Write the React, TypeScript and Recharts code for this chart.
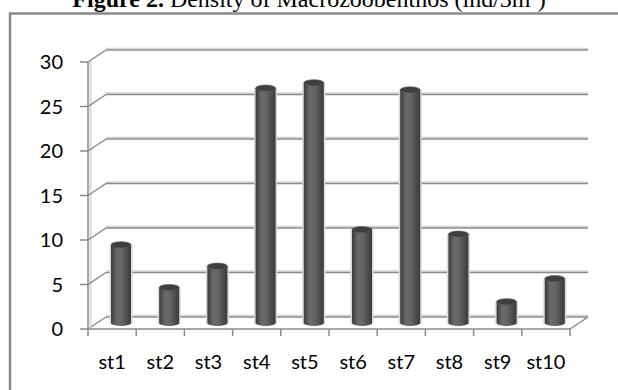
import React from 'react';
import { BarChart, Bar, XAxis, YAxis, CartesianGrid } from 'recharts';

const categories = ['st1', 'st2', 'st3', 'st4', 'st5', 'st6', 'st7', 'st8', 'st9', 'st10'];
const density = [8.8, 4.0, 6.4, 26.4, 27.0, 10.5, 26.2, 10.0, 2.4, 5.0];
const yTicks = [0, 5, 10, 15, 20, 25, 30];
const titleBold = 'Figure 2.';
const titleRest = ' Density of Macrozoobenthos (ind/3m²)';

const data = categories.map((c, i) => ({ station: c, value: density[i] }));

const DX = 18;
const DY = -12;
const AXIS = '#8a8a8a';
const X_TICK_SIZE = 7;
const X_TICK_MARGIN = 19;
const LABEL_FONT = 'Lato, "Open Sans", sans-serif';

const BackGridLine = (props: any) => {
  const { x1, y1, x2, y2, y, height } = props;
  const isFloor = Math.abs(y1 - (y + height)) < 0.5;
  return (
    <g>
      <line x1={x1} y1={y1} x2={x1 + DX} y2={y1 + DY} stroke={AXIS} strokeWidth={1.5} />
      <line x1={x1 + DX} y1={y1 + DY - 1.5} x2={x2 + DX} y2={y2 + DY - 1.5} stroke="#d4d4d4" strokeWidth={1.5} />
      <line x1={x1 + DX} y1={y1 + DY} x2={x2 + DX} y2={y2 + DY} stroke={AXIS} strokeWidth={1.5} />
      {isFloor && (
        <g>
          <line x1={x2} y1={y2} x2={x2 + DX} y2={y2 + DY} stroke={AXIS} strokeWidth={1.5} />
          <line x1={x1 + 2.5} y1={y} x2={x1 + 2.5} y2={y + height} stroke="#d8d8d8" strokeWidth={2} />
        </g>
      )}
    </g>
  );
};

const XTick = (props: any) => {
  const { x, y, payload, index, visibleTicksCount } = props;
  const half = payload && payload.offset ? payload.offset : 24;
  const axisY = y - X_TICK_SIZE - X_TICK_MARGIN;
  const isLast = index === (visibleTicksCount ?? categories.length) - 1;
  return (
    <g>
      <line x1={x - half} y1={axisY} x2={x - half} y2={axisY + X_TICK_SIZE} stroke={AXIS} strokeWidth={1.5} />
      {isLast && (
        <line x1={x + half} y1={axisY} x2={x + half} y2={axisY + X_TICK_SIZE} stroke={AXIS} strokeWidth={1.5} />
      )}
      <text x={x} y={y} dy="0.71em" textAnchor="middle" fill="#000" fontSize={20} fontFamily={LABEL_FONT}>
        {payload.value}
      </text>
    </g>
  );
};

const Cylinder = (props: any) => {
  const { x, y, width, height } = props;
  if (width == null || height == null) return null;
  const r = width / 2;
  const ry = 3;
  const cx = x + r + DX / 2;
  const top = y + DY / 2;
  const bottom = y + height + DY / 2;
  const body = `M${cx - r},${top} L${cx - r},${bottom} A${r},${ry} 0 0 0 ${cx + r},${bottom} L${cx + r},${top} Z`;
  return (
    <g>
      <rect x={cx - r - 1.5} y={top} width={width + 3} height={bottom - top + 1} fill="#d9d9d9" />
      <path d={body} fill="url(#cylGrad)" />
      <ellipse cx={cx} cy={top} rx={r} ry={ry} fill="#3f3f3f" stroke="#555" strokeWidth={0.6} />
    </g>
  );
};

export default function App() {
  return (
    <div style={{ position: 'absolute', left: 0, top: 0, width: 618, height: 390, background: '#fff', overflow: 'hidden' }}>
      <svg width={0} height={0} style={{ position: 'absolute' }}>
        <defs>
          <linearGradient id="cylGrad" x1="0" y1="0" x2="1" y2="0">
            <stop offset="0%" stopColor="#3c3c3c" />
            <stop offset="30%" stopColor="#6a6a6a" />
            <stop offset="55%" stopColor="#636363" />
            <stop offset="100%" stopColor="#3a3a3a" />
          </linearGradient>
        </defs>
      </svg>
      <div style={{ position: 'absolute', left: 0, top: 0 }}>
        <BarChart width={618} height={390} data={data} margin={{ top: 62, right: 48, bottom: 21, left: 0 }}>
          <CartesianGrid vertical={false} horizontal={(p: any) => <BackGridLine {...p} />} />
          <YAxis
            width={88}
            domain={[0, 30]}
            ticks={yTicks}
            interval={0}
            tickSize={8}
            tickMargin={17}
            axisLine={{ stroke: AXIS, strokeWidth: 1.5 }}
            tickLine={{ stroke: AXIS, strokeWidth: 1.5 }}
            tick={{ fill: '#000', fontSize: 20, fontFamily: LABEL_FONT }}
          />
          <XAxis
            dataKey="station"
            height={40}
            interval={0}
            tickSize={X_TICK_SIZE}
            tickMargin={X_TICK_MARGIN}
            tickLine={false}
            axisLine={{ stroke: AXIS, strokeWidth: 1.5 }}
            tick={<XTick />}
          />
          <Bar dataKey="value" barSize={20} shape={<Cylinder />} isAnimationActive={false} />
        </BarChart>
      </div>
      <svg width={618} height={390} style={{ position: 'absolute', left: 0, top: 0, pointerEvents: 'none' }}>
        <rect x={10} y={13.5} width={700} height={500} fill="none" stroke="#8a8a8a" strokeWidth={2.5} />
        <text x={309} y={7} textAnchor="middle" fontFamily='"Liberation Serif", "Times New Roman", serif' fontSize={24} fill="#000">
          <tspan fontWeight="bold">{titleBold}</tspan>
          <tspan>{titleRest}</tspan>
        </text>
      </svg>
    </div>
  );
}
